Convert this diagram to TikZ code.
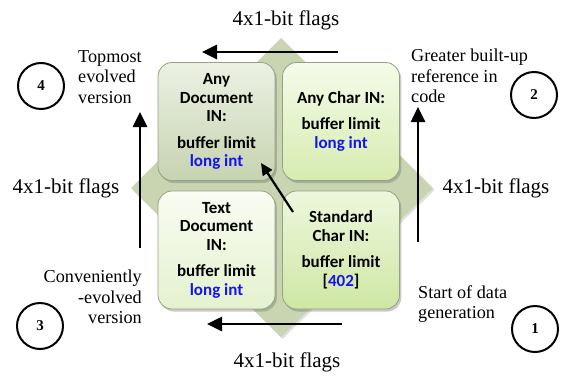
\documentclass[tikz,border=0pt]{standalone}
\usepackage{fontspec}
\setmainfont{Liberation Serif}
\newfontfamily\boxfont{Carlito}
\usetikzlibrary{arrows.meta,shadows}

\definecolor{diamondgreen}{RGB}{200,213,176}
\definecolor{boxline}{RGB}{150,160,135}
\definecolor{valblue}{RGB}{20,20,240}
\definecolor{tlTop}{RGB}{236,241,227}
\definecolor{tlBot}{RGB}{198,211,176}
\definecolor{trTop}{RGB}{245,251,233}
\definecolor{trBot}{RGB}{214,236,176}
\definecolor{blTop}{RGB}{249,252,242}
\definecolor{blBot}{RGB}{228,242,206}
\definecolor{brTop}{RGB}{238,247,221}
\definecolor{brBot}{RGB}{206,231,164}

\begin{document}
\begin{tikzpicture}[x=1pt,y=-1pt,
  quadbox/.style={draw=boxline, line width=0.8pt, rounded corners=14pt,
    minimum width=117pt, minimum height=118pt, align=center,
    font=\boxfont\bfseries\fontsize{17}{18.5}\selectfont,
    shading=axis, shading angle=0,
    drop shadow={shadow xshift=1.8pt, shadow yshift=-2.5pt, opacity=0.35, fill=black!60}},
  flowarrow/.style={line width=2.6pt, -{Triangle[length=15pt,width=14pt]}},
  steparrow/.style={line width=2.2pt, -{Triangle[length=12pt,width=11pt]}},
  stepnum/.style={draw, circle, line width=2pt, minimum size=46pt, inner sep=0pt,
    font=\bfseries\fontsize{15}{17}\selectfont},
  flaglabel/.style={anchor=base, inner sep=0pt, font=\fontsize{21}{24}\selectfont},
  sidetext/.style={inner sep=0pt, font=\fontsize{18.2}{20.5}\selectfont}
]
\useasboundingbox (0,0) rectangle (561,375);

% background diamond
\fill[diamondgreen, drop shadow={shadow xshift=1.5pt, shadow yshift=-2pt, opacity=0.25}]
  (281,38) -- (433,188) -- (281,337) -- (131,188) -- cycle;

% the four quadrant boxes
\node[quadbox, top color=tlTop, bottom color=tlBot] (anydoc) at (216.5,121.5)
  {Any\\Document\\IN:\\[8pt]buffer limit\\\textcolor{valblue}{long int}};
\node[quadbox, top color=trTop, bottom color=trBot] (anychar) at (341,121.5)
  {Any Char IN:\\[7.5pt]buffer limit\\\textcolor{valblue}{long int}};
\node[quadbox, top color=blTop, bottom color=blBot] (textdoc) at (216.5,250)
  {Text\\Document\\IN:\\[8pt]buffer limit\\\textcolor{valblue}{long int}};
\node[quadbox, top color=brTop, bottom color=brBot] (stdchar) at (341,250)
  {Standard\\Char IN:\\[8pt]buffer limit\\{[}\textcolor{valblue}{402}{]}};

% arrow end points
\coordinate (topS) at (338,52);   \coordinate (topE) at (202,52);
\coordinate (botS) at (342,324);  \coordinate (botE) at (207,324);
\coordinate (leftS) at (140,248); \coordinate (leftE) at (140,112);
\coordinate (rightS) at (418,242);\coordinate (rightE) at (418,107);
\coordinate (diagS) at (293,212); \coordinate (diagE) at (261,163);

\draw[flowarrow] (topS) -- (topE);
\draw[flowarrow] (botS) -- (botE);
\draw[flowarrow] (leftS) -- (leftE);
\draw[flowarrow] (rightS) -- (rightE);
\draw[steparrow] (diagS) -- (diagE);

% flag labels
\node[flaglabel] (flagTop) at (286,25) {4x1-bit flags};
\node[flaglabel] (flagBot) at (287,367) {4x1-bit flags};
\node[flaglabel] (flagLeft) at (66,193) {4x1-bit flags};
\node[flaglabel] (flagRight) at (496,193) {4x1-bit flags};

% numbered stages
\node[stepnum] (s4) at (41,86) {4};
\node[stepnum] (s2) at (534,95) {2};
\node[stepnum] (s3) at (40,326) {3};
\node[stepnum] (s1) at (535,329) {1};

% stage descriptions
\node[sidetext, anchor=north west, align=left] (d4) at (78,50)
  {Topmost\\evolved\\version};
\node[sidetext, anchor=north west, align=left] (d2) at (411,49)
  {Greater built-up\\reference in\\code};
\node[sidetext, anchor=north east, align=right] (d3) at (142,270)
  {Conveniently\\-evolved\\version};
\node[sidetext, anchor=north west, align=left] (d1) at (418,285)
  {Start of data\\generation};
\end{tikzpicture}
\end{document}
